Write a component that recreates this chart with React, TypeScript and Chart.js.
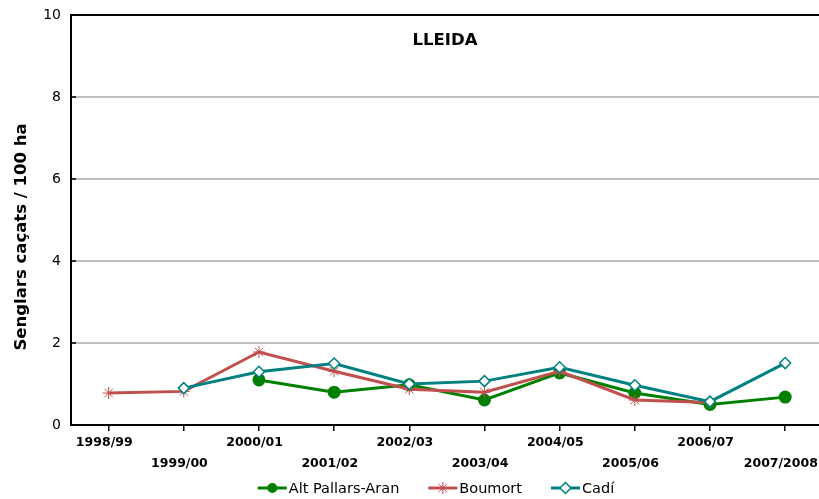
import React, { useEffect, useRef } from "react";
import { Chart, registerables } from "chart.js";

Chart.register(...registerables);

const categories = ["1998/99", "1999/00", "2000/01", "2001/02", "2002/03", "2003/04", "2004/05", "2005/06", "2006/07", "2007/2008"];
const altPallarsAran: (number | null)[] = [null, null, 1.1, 0.8, 0.98, 0.61, 1.27, 0.78, 0.5, 0.68];
const boumort: (number | null)[] = [0.78, 0.82, 1.78, 1.31, 0.87, 0.8, 1.31, 0.61, 0.55, null];
const cadi: (number | null)[] = [null, 0.9, 1.3, 1.5, 1.0, 1.07, 1.41, 0.97, 0.57, 1.51];
const yTicks = [0, 2, 4, 6, 8, 10];
const seriesNames = ["Alt Pallars-Aran", "Boumort", "Cadí"];

const chartTitle = "LLEIDA";
const yTitle = "Senglars caçats / 100 ha";

const GREEN = "#008000";
const RED = "#C0504D";
const TEAL = "#008080";
const FONT = "'DejaVu Sans', sans-serif";

function toPoints(arr: (number | null)[]) {
  return arr.map((v, i) => ({ x: i, y: v }));
}

function drawIcon(ctx: CanvasRenderingContext2D, kind: number, x: number, y: number, w: number) {
  const color = [GREEN, RED, TEAL][kind];
  const cx = x + w / 2;
  ctx.save();
  ctx.strokeStyle = color;
  ctx.lineWidth = 3;
  ctx.beginPath();
  ctx.moveTo(x, y);
  ctx.lineTo(x + w, y);
  ctx.stroke();
  if (kind === 0) {
    ctx.fillStyle = color;
    ctx.beginPath();
    ctx.arc(cx, y, 5, 0, Math.PI * 2);
    ctx.fill();
  } else if (kind === 1) {
    ctx.lineWidth = 1;
    ctx.beginPath();
    for (let a = 0; a < 4; a++) {
      const ang = (a * Math.PI) / 4;
      ctx.moveTo(cx - 6 * Math.cos(ang), y - 6 * Math.sin(ang));
      ctx.lineTo(cx + 6 * Math.cos(ang), y + 6 * Math.sin(ang));
    }
    ctx.stroke();
  } else {
    ctx.fillStyle = "#fff";
    ctx.lineWidth = 1.5;
    ctx.beginPath();
    ctx.moveTo(cx, y - 5.5);
    ctx.lineTo(cx + 5.5, y);
    ctx.lineTo(cx, y + 5.5);
    ctx.lineTo(cx - 5.5, y);
    ctx.closePath();
    ctx.fill();
    ctx.stroke();
  }
  ctx.restore();
}

const textPlugin = {
  id: "textPlugin",
  beforeDatasetsDraw(chart: any) {
    // short inward tick marks on the value axis
    const { ctx, chartArea, scales } = chart;
    ctx.save();
    ctx.strokeStyle = "#000";
    ctx.lineWidth = 1.5;
    yTicks.forEach((v) => {
      const py = Math.round(scales.y.getPixelForValue(v));
      ctx.beginPath();
      ctx.moveTo(chartArea.left, py);
      ctx.lineTo(chartArea.left + 5, py);
      ctx.stroke();
    });
    ctx.restore();
  },
  afterDraw(chart: any) {
    const { ctx, chartArea } = chart;
    ctx.save();
    ctx.fillStyle = "#000";
    ctx.textAlign = "center";
    ctx.textBaseline = "middle";
    ctx.font = `bold 16.5px ${FONT}`;
    ctx.fillText(chartTitle, (chartArea.left + chartArea.right) / 2, chartArea.top + 26);
    ctx.save();
    ctx.translate(22, 237);
    ctx.rotate(-Math.PI / 2);
    ctx.font = `bold 16.5px ${FONT}`;
    ctx.fillText(yTitle, 0, 0);
    ctx.restore();

    // legend
    ctx.font = `14.5px ${FONT}`;
    ctx.textAlign = "left";
    const iconW = 29;
    const gapIconText = 2;
    const gapItems = 29;
    const widths = seriesNames.map((s) => ctx.measureText(s).width);
    const total = widths.reduce((a, w) => a + iconW + gapIconText + w, 0) + gapItems * (seriesNames.length - 1);
    let x = 436 - total / 2;
    const y = 488;
    seriesNames.forEach((s, i) => {
      drawIcon(ctx, i, x, y, iconW);
      x += iconW + gapIconText;
      ctx.fillStyle = "#000";
      ctx.fillText(s, x, y + 1);
      x += widths[i] + gapItems;
    });
    ctx.restore();
  },
};

export default function App() {
  const ref = useRef<HTMLCanvasElement>(null);
  useEffect(() => {
    document.body.style.margin = "0";
    const chart = new Chart(ref.current!, {
      type: "line",
      data: {
        datasets: [
          {
            label: seriesNames[0],
            data: toPoints(altPallarsAran),
            borderColor: GREEN,
            backgroundColor: GREEN,
            borderWidth: 3,
            pointStyle: "circle",
            pointRadius: 5,
            pointBackgroundColor: GREEN,
            pointBorderColor: GREEN,
            order: 2,
          },
          {
            label: seriesNames[1],
            data: toPoints(boumort),
            borderColor: RED,
            backgroundColor: RED,
            borderWidth: 3,
            pointStyle: "star",
            pointRadius: 6,
            pointBorderWidth: 1,
            pointBorderColor: RED,
            order: 1,
          },
          {
            label: seriesNames[2],
            data: toPoints(cadi),
            borderColor: TEAL,
            backgroundColor: "#fff",
            borderWidth: 3,
            pointStyle: "rectRot",
            pointRadius: 5.5,
            pointBorderWidth: 1.5,
            pointBackgroundColor: "#fff",
            pointBorderColor: TEAL,
            order: 0,
          },
        ] as any,
      },
      options: {
        animation: false,
        responsive: false,
        maintainAspectRatio: false,
        layout: { autoPadding: false, padding: { top: 15, right: 0, left: 0, bottom: 24 } },
        plugins: {
          tooltip: { enabled: false },
          title: { display: false },
          legend: { display: false },
        },
        scales: {
          x: {
            type: "linear",
            min: -0.5,
            max: 9.45,
            afterBuildTicks: (axis: any) => {
              axis.ticks = categories.map((_, i) => ({ value: i }));
            },
            afterFit: (scale: any) => {
              scale.paddingRight = 0;
              scale.paddingLeft = 0;
              scale.height = 50;
            },
            grid: { drawOnChartArea: false, drawTicks: true, tickLength: 6, color: "#000", lineWidth: 1.5 },
            border: { color: "#000", width: 2 },
            ticks: {
              autoSkip: false,
              maxRotation: 0,
              padding: 1,
              color: "#000",
              font: { family: FONT, size: 12.5, weight: "bold", lineHeight: "21px" },
              callback: (v: any) => {
                const i = Math.round(Number(v));
                const lab = (categories[i] ?? "") + "  ";
                return i % 2 === 0 ? [lab, ""] : ["", lab];
              },
            },
          },
          y: {
            min: 0,
            max: 10,
            afterBuildTicks: (axis: any) => {
              axis.ticks = yTicks.map((v) => ({ value: v }));
            },
            afterFit: (scale: any) => {
              scale.width = 71;
              scale.paddingTop = 0;
              scale.paddingBottom = 0;
            },
            grid: {
              color: (c: any) => (c.tick && c.tick.value === 10 ? "#000" : "#c0c0c0"),
              lineWidth: 2,
              drawTicks: false,
            },
            border: { color: "#000", width: 2 },
            ticks: {
              padding: 10,
              color: "#000",
              font: { family: FONT, size: 14 },
            },
          },
        },
      } as any,
      plugins: [textPlugin],
    });
    return () => chart.destroy();
  }, []);
  return (
    <div style={{ width: 819, height: 499 }}>
      <canvas ref={ref} width={819} height={499} style={{ display: "block" }} />
    </div>
  );
}
